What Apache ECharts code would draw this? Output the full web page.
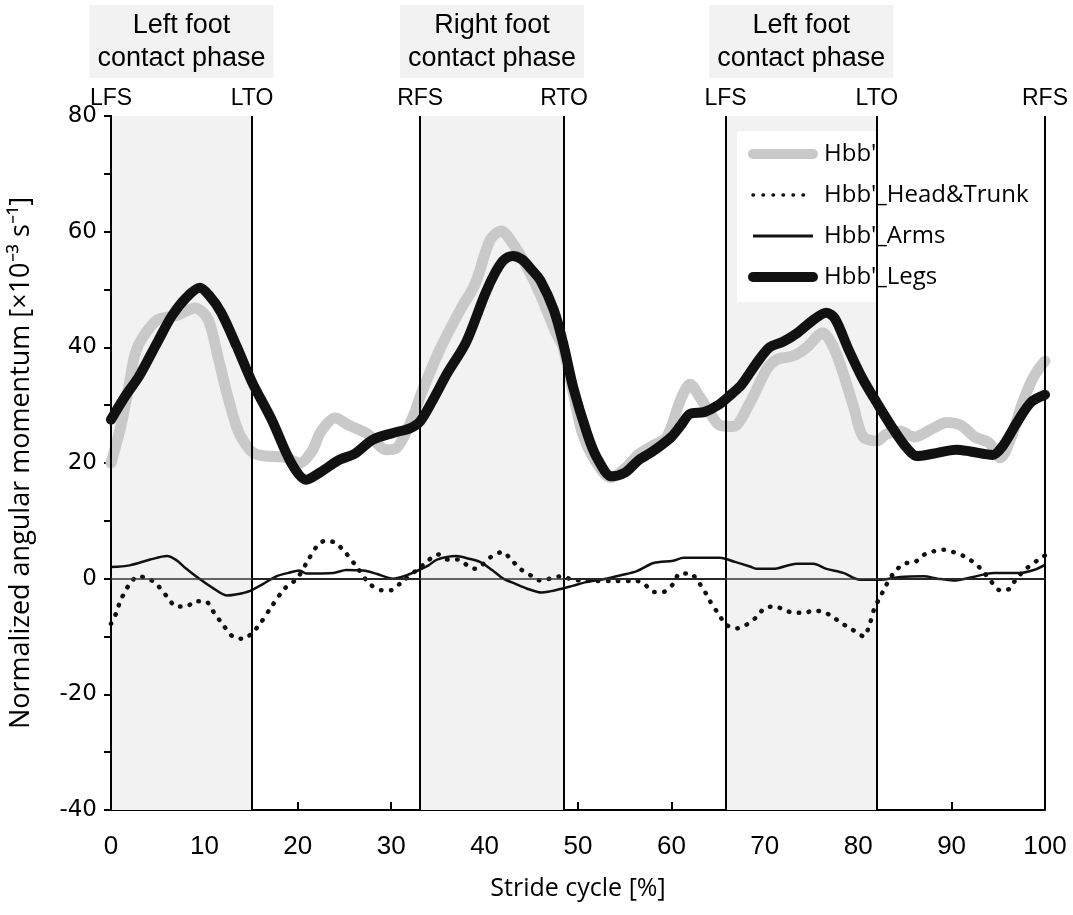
<!DOCTYPE html>
<html>
<head>
<meta charset="utf-8">
<script src="https://cdn.jsdelivr.net/npm/echarts@6/dist/echarts.min.js"></script>
<style>
  html, body { margin: 0; padding: 0; background: #fff; }
  #chart { width: 1073px; height: 915px; }
</style>
</head>
<body>
<div id="chart"></div>
<script>
// stride cycle positions [%] and values [x10^-3 s^-1]
var hbbX = [0, 1, 2, 2.6, 3.5, 5, 7, 9, 10.4, 11.5, 12.5, 13.5, 14.3, 15.2, 16.5, 18.5, 20.2, 21.5, 22.5, 24, 25.5, 27.5, 29.5, 30.5, 31.5, 32.5, 33.1, 35.2, 37.4, 39, 40.6, 41.8, 43, 44.5, 46, 47.5, 48.4, 49.5, 50.5, 52, 53.5, 55, 56.5, 58, 59.5, 61, 62, 63, 64.2, 65.2, 66.6, 68.4, 70.2, 71.3, 73, 74.5, 76.2, 77.2, 78, 79.5, 80.5, 82, 83, 84.5, 86, 88, 89.5, 91, 92.5, 94, 95.2, 96.5, 97.5, 98.5, 99.2, 100];
var hbbY = [20, 26, 34, 39, 42, 44.8, 45.5, 46.8, 44.8, 38, 31.5, 26, 23.5, 21.8, 21.2, 21, 20, 22, 25.5, 27.8, 26.5, 25, 22.3, 22.5, 25, 28.7, 31.5, 39.6, 46.5, 51, 58.6, 60.1, 58, 54, 49, 43, 40, 32, 25, 20, 17.5, 19, 21.5, 23, 24.5, 31, 33.6, 31.5, 28.5, 26.5, 26.3, 30.4, 36.2, 37.9, 38.5, 40, 42.5, 40.5, 37.4, 29.8, 24.6, 23.8, 25, 25.5, 24.5, 26, 27, 26.5, 24.5, 23.5, 20.9, 25, 30, 34, 36, 37.6];

var headX = [0, 0.6, 1, 1.5, 2, 2.9, 4, 4.9, 6, 7, 8.1, 9, 10.1, 11, 12, 13.1, 14.2, 15.1, 16, 17.2, 18.6, 19.9, 21, 22, 23, 24, 25, 26.1, 27.7, 29, 30, 31.1, 32.9, 34, 35, 36.1, 37.2, 38.3, 39, 39.9, 40.8, 41.9, 42.9, 43.8, 44.9, 45.9, 47, 48.1, 49.1, 50.2, 52, 54.1, 56.3, 57.2, 58.1, 59.1, 60.2, 60.9, 62, 62.9, 63.6, 64.1, 65, 65.9, 67, 68, 69, 70, 71.1, 72.2, 73.2, 74.3, 75.2, 76.3, 77.2, 78.2, 79.1, 80, 80.6, 81.2, 81.8, 82.3, 82.9, 83.9, 85, 86.1, 87, 88, 89.1, 90.2, 91.3, 92.2, 93.2, 94.1, 95.2, 96.3, 96.8, 97.9, 99.3, 100];
var headY = [-7.8, -5.8, -3.8, -2.3, -0.9, 0.4, 0, -1, -3.1, -4.8, -4.8, -3.9, -3.9, -5.8, -8, -10.1, -10.4, -9.4, -7.7, -4.8, -1.7, 0, 2.9, 5.5, 6.6, 6.2, 4.7, 2.5, -0.9, -2, -2, -0.6, 1.7, 3.2, 4.2, 3.3, 3.3, 2.1, 1.7, 2.6, 3.9, 4.6, 3.2, 1.7, 0.6, -0.3, 0, 0.4, 0, -0.3, -0.4, -0.4, -0.4, -1.1, -2.3, -2.3, -0.9, 0.9, 0.9, -0.6, -2.3, -3.8, -6, -8, -8.6, -8, -6.8, -5.1, -4.8, -5.5, -5.9, -5.9, -5.5, -5.8, -6.5, -7.7, -8.5, -9.5, -10, -8, -4.8, -3.4, -1.4, 1.2, 2.6, 2.9, 4.1, 4.7, 5, 4.6, 3.9, 3, 1.6, -0.2, -2, -1.7, -0.3, 1.6, 3.3, 4];

var armsX = [0, 2, 4.2, 6, 7, 8, 9.2, 10.8, 12.4, 13.5, 14.9, 16.3, 17.7, 19, 20.2, 20.9, 23.8, 25.2, 27, 28.5, 30.2, 31.5, 32.7, 34, 34.9, 37, 38.2, 39.5, 40.8, 42, 43.3, 44.5, 46.1, 47, 48.1, 49.5, 50.9, 53, 54.6, 56.3, 58.1, 60.2, 61.3, 63.1, 65.2, 66.8, 68.4, 69.1, 70.9, 73.4, 75.2, 76.6, 78.4, 80.2, 82.3, 84.5, 87, 88.5, 90.2, 92.3, 94.5, 97.3, 98.8, 100];
var armsY = [2, 2.3, 3.3, 3.9, 3.2, 1.8, 0.3, -1.5, -2.9, -2.7, -2.1, -0.9, 0.4, 1, 1.4, 0.9, 1, 1.5, 1.4, 0.8, 0, 0.5, 1.3, 2.3, 3.3, 3.9, 3.5, 2.9, 1.5, 0, -0.9, -1.7, -2.4, -2.2, -1.8, -1.2, -0.6, 0, 0.6, 1.3, 2.7, 3.1, 3.6, 3.6, 3.6, 2.9, 2.1, 1.7, 1.7, 2.6, 2.6, 1.7, 1, -0.2, -0.2, 0.3, 0.4, 0, -0.3, 0.3, 1, 1, 1.5, 2.4];

var legsX = [0, 1.5, 3, 5, 6.5, 8, 9.5, 10.5, 11.8, 13.5, 15.1, 17.2, 19.3, 20.9, 22.5, 24.5, 26, 28, 30.2, 32, 33.1, 34.5, 36, 38, 40, 41, 42, 43, 44, 45, 46, 47.4, 48.4, 49.5, 51, 52, 53.6, 55, 56.5, 58, 60, 61, 62, 63.5, 65, 66.5, 67.5, 69, 70.5, 72, 73.5, 75, 76.6, 77.5, 79, 80.5, 82, 83.5, 85, 86.3, 88, 90.5, 92, 94.4, 95.5, 97, 98.5, 100];
var legsY = [27.5, 31.5, 35, 41, 45.4, 48.5, 50.3, 49, 46, 40, 34, 27.5, 20, 17.1, 18.5, 20.6, 21.5, 24, 25.2, 26, 27.2, 31, 35.5, 40.8, 49, 52.5, 55, 55.8, 55.2, 53.5, 51.5, 46.5, 40.8, 33, 25, 21, 17.7, 18.3, 20.5, 22, 24.5, 26.5, 28.5, 28.8, 30, 32, 33.5, 37, 40, 41, 42.5, 44.5, 46, 45, 39.5, 34.5, 30.4, 26.5, 23, 21.2, 21.6, 22.3, 22, 21.4, 23, 27, 30.5, 31.8];

// gait events and contact phases
var eventX = [0, 15.1, 33.1, 48.5, 65.8, 82, 100];
var eventNames = ['LFS', 'LTO', 'RFS', 'RTO', 'LFS', 'LTO', 'RFS'];
var phases = [[0, 15.1], [33.1, 48.5], [65.8, 82]];
var phaseNames = ['Left foot\ncontact phase', 'Right foot\ncontact phase', 'Left foot\ncontact phase'];

var tickFont = '"Liberation Sans", sans-serif';

function pairs(xs, ys) {
  return xs.map(function (x, i) { return [x, ys[i]]; });
}

var chart = echarts.init(document.getElementById('chart'));

chart.setOption({
  animation: false,
  backgroundColor: '#fff',
  grid: { left: 111, right: 28, top: 116, bottom: 105 },
  legend: {
    data: [
      { name: "Hbb'", lineStyle: { width: 10, cap: 'round' } },
      { name: "Hbb'_Head&Trunk", lineStyle: { width: 3.5, cap: 'round' } },
      { name: "Hbb'_Arms", lineStyle: { width: 3 } },
      { name: "Hbb'_Legs", lineStyle: { width: 10, cap: 'round' } }
    ],
    orient: 'vertical',
    left: 737,
    top: 131,
    padding: [11, 40, 13, 11],
    backgroundColor: '#fff',
    itemWidth: 60,
    itemHeight: 14,
    itemGap: 17,
    itemStyle: { opacity: 0 },
    textStyle: { fontFamily: 'Open Sans', fontSize: 24, color: '#000', padding: [0, 0, 0, 6] }
  },
  xAxis: [{
    type: 'value',
    min: 0,
    max: 100,
    interval: 10,
    name: 'Stride cycle [%]',
    nameLocation: 'middle',
    nameGap: 66,
    nameTextStyle: { fontFamily: 'Open Sans', fontSize: 25, color: '#000' },
    axisLine: { onZero: false, lineStyle: { color: '#000', width: 2 } },
    axisTick: { inside: true, length: 8, lineStyle: { color: '#000', width: 2 } },
    axisLabel: { margin: 24, fontFamily: tickFont, fontSize: 26, color: '#000' },
    splitLine: { show: false }
  }, {
    type: 'value',
    position: 'top',
    min: 0,
    max: 100,
    axisLine: { show: true, lineStyle: { color: '#000', width: 2 } },
    axisTick: { show: false },
    axisLabel: { show: false },
    splitLine: { show: false }
  }],
  yAxis: [{
    type: 'value',
    min: -40,
    max: 80,
    interval: 10,
    name: 'Normalized angular momentum [×10⁻³ s⁻¹]',
    nameLocation: 'middle',
    nameGap: 76,
    nameTextStyle: { fontFamily: 'Open Sans', fontSize: 27, color: '#000' },
    axisLine: { show: true, onZero: false, lineStyle: { color: '#000', width: 2 } },
    axisTick: { length: 7, lineStyle: { color: '#000', width: 2 } },
    axisLabel: {
      margin: 14,
      fontFamily: 'DejaVu Sans',
      fontSize: 23,
      color: '#000',
      formatter: function (v) { return v % 20 === 0 ? String(v) : ''; }
    },
    splitLine: { show: false }
  }, {
    type: 'value',
    position: 'right',
    min: -40,
    max: 80,
    axisLine: { show: true, lineStyle: { color: '#000', width: 2 } },
    axisTick: { show: false },
    axisLabel: { show: false },
    splitLine: { show: false }
  }],
  series: [
    {
      type: 'line',
      z: 1,
      data: [],
      symbol: 'none',
      markArea: {
        silent: true,
        itemStyle: { color: '#f2f2f2' },
        label: {
          show: true,
          position: 'top',
          distance: 38,
          fontFamily: tickFont,
          fontSize: 27,
          lineHeight: 33,
          color: '#000',
          backgroundColor: '#f2f2f2',
          width: 168,
          align: 'center',
          padding: [4, 8, 3, 8]
        },
        data: phases.map(function (p, i) {
          return [{ xAxis: p[0], name: phaseNames[i] }, { xAxis: p[1] }];
        })
      },
      markLine: {
        silent: true,
        symbol: 'none',
        animation: false,
        lineStyle: { color: '#000', width: 2, type: 'solid' },
        label: {
          show: true,
          position: 'end',
          distance: 6,
          fontFamily: tickFont,
          fontSize: 23,
          color: '#000',
          formatter: function (p) { return p.name; }
        },
        data: eventX.map(function (x, i) {
          return { xAxis: x, name: eventNames[i] };
        }).concat([{ yAxis: 0, name: '', lineStyle: { color: '#333', width: 1.5 }, label: { show: false } }])
      }
    },
    {
      name: "Hbb'",
      type: 'line',
      z: 2,
      symbol: 'none',
      smooth: 0.3,
      lineStyle: { color: '#c9c9c9', width: 11, cap: 'round', join: 'round' },
      itemStyle: { color: '#c9c9c9' },
      data: pairs(hbbX, hbbY)
    },
    {
      name: "Hbb'_Head&Trunk",
      type: 'line',
      z: 3,
      symbol: 'none',
      smooth: 0.3,
      lineStyle: { color: '#111', width: 4.5, type: [0.5, 9.5], cap: 'round' },
      itemStyle: { color: '#111' },
      data: pairs(headX, headY)
    },
    {
      name: "Hbb'_Arms",
      type: 'line',
      z: 4,
      symbol: 'none',
      smooth: 0.3,
      lineStyle: { color: '#111', width: 2.5 },
      itemStyle: { color: '#111' },
      data: pairs(armsX, armsY)
    },
    {
      name: "Hbb'_Legs",
      type: 'line',
      z: 5,
      symbol: 'none',
      smooth: 0.3,
      lineStyle: { color: '#111', width: 10, cap: 'round', join: 'round' },
      itemStyle: { color: '#111' },
      data: pairs(legsX, legsY)
    }
  ]
});
</script>
</body>
</html>
